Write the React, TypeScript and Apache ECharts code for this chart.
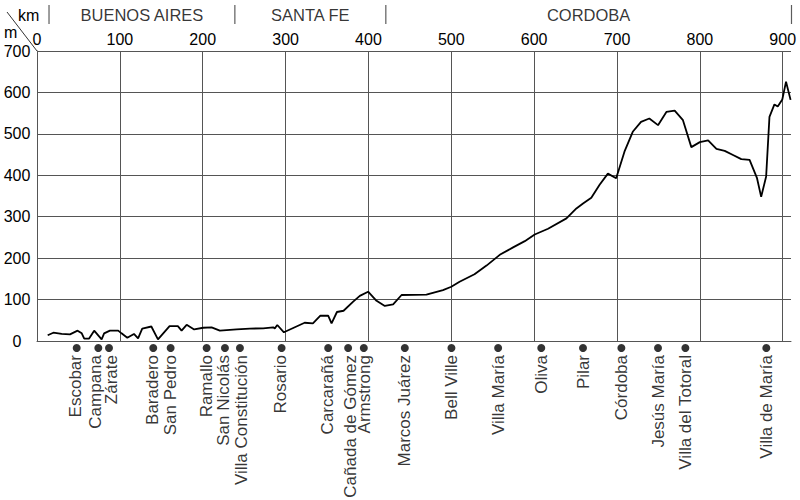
import React, { useEffect, useRef } from "react";
import * as echarts from "echarts";

// Elevation profile (distance in km, height in m)
const profileKm = [
  12.9, 19.7, 29.8, 39.8, 49, 54, 57, 62.7, 69, 78, 81, 88, 98, 102, 109, 117, 122, 127, 138, 146,
  160, 170, 174.5, 180.6, 189.7, 200.6, 210.7, 220.7, 240.9, 257, 273, 285, 287, 290, 298, 323, 333,
  342, 351.4, 355.5, 362, 370, 381.6, 389.6, 399.6, 409.8, 419.8, 429.8, 440, 470, 490, 500, 510, 528,
  542.5, 558.5, 574.6, 588.7, 600.7, 616.8, 639, 651, 659, 669, 679, 689, 699, 709, 719, 729, 739,
  749.5, 759.6, 769.6, 779.6, 789.7, 800, 810, 820, 830, 840, 850, 860, 869, 874, 880, 884, 890, 894,
  899.5, 904, 909.5,
];
const profileM = [
  14, 20, 17, 16, 25, 18.5, 5.5, 5.5, 25, 4, 18.5, 25, 25, 18.5, 8, 17, 6.5, 30, 35, 4,
  36, 36, 25, 39, 28, 32, 33, 25, 28, 30, 30.5, 33, 30.5, 38.6, 21, 44, 42.6,
  61, 61, 42.6, 70, 73, 95, 109, 119, 97, 84.5, 88.6, 111, 112, 123, 131, 143, 161,
  182, 208, 226, 241, 257, 271, 296, 320, 332, 346, 377, 404, 393, 457, 505, 529, 537,
  521, 553, 556, 533, 468, 480, 484, 464, 459, 449, 439, 437, 393, 348, 397, 541, 571, 566,
  583, 626, 582,
];

// Towns along the route
const townNames = [
  "Escobar", "Campana", "Zárate", "Baradero", "San Pedro", "Ramallo", "San Nicolás",
  "Villa Constitución", "Rosario", "Carcarañá", "Cañada de Gómez", "Armstrong", "Marcos Juárez",
  "Bell Ville", "Villa María", "Oliva", "Pilar", "Córdoba", "Jesús María", "Villa del Totoral",
  "Villa de María",
];
const townKm = [
  47.9, 74, 86.9, 140.3, 161.3, 204.7, 226.8, 244.9, 295.2, 351.4, 375.5, 394.4, 443.9,
  500.2, 556.5, 608.6, 659, 705.3, 749.5, 782.5, 880.2,
];
const townLabelShift = [
  -1, -2.5, 2, -1, 0, 0, -1, 1.5, -1, -1, 2, 1, 0, 0, 0, 0, 0, 0, 0, 0, 0,
];

// Provinces
const regionNames = ["BUENOS AIRES", "SANTA FE", "CORDOBA"];
const regionBoundsKm = [14.5, 238.8, 421, 910.6];

const xMax = 910;
const yMax = 700;
const FONT = "'Liberation Sans', Arial, sans-serif";

export default function App() {
  const ref = useRef<HTMLDivElement>(null);

  useEffect(() => {
    document.body.style.margin = "0";
    const chart = echarts.init(ref.current!, undefined, { renderer: "svg" });

    const lineData = profileKm.map((k, i) => [k, profileM[i]]);
    const townData = townNames.map((n, i) => ({
      name: n,
      value: [townKm[i], 0.5],
      label: { offset: [0, townLabelShift[i]] },
    }));
    const sepData = regionBoundsKm.map((k) => [k, 0.5]);
    const regionData = regionNames.map((n, i) => ({
      name: n,
      value: [(regionBoundsKm[i] + regionBoundsKm[i + 1]) / 2, 0.5],
    }));

    const grid = "#555";

    chart.setOption({
      animation: false,
      backgroundColor: "#fff",
      textStyle: { fontFamily: FONT },
      grid: [
        { left: 37, right: 9, top: 51, height: 290 },
        { left: 37, right: 9, top: 341, height: 14 },
        { left: 37, right: 9, top: 5, height: 19 },
      ],
      xAxis: [
        {
          gridIndex: 0,
          type: "value",
          position: "top",
          min: 0,
          max: xMax,
          interval: 100,
          axisLine: { show: true, lineStyle: { color: grid, width: 1 } },
          axisTick: { show: false },
          axisLabel: {
            margin: 4,
            fontSize: 16,
            color: "#000",
            fontFamily: FONT,
            formatter: (v: number) => (v % 100 === 0 ? String(v) : ""),
          },
          splitLine: { show: true, showMaxLine: false, lineStyle: { color: grid, width: 1 } },
        },
        { gridIndex: 1, type: "value", min: 0, max: xMax, show: false },
        { gridIndex: 2, type: "value", min: 0, max: xMax, show: false },
      ],
      yAxis: [
        {
          gridIndex: 0,
          type: "value",
          min: 0,
          max: yMax,
          interval: 100,
          axisLine: { show: true, lineStyle: { color: grid, width: 1 } },
          axisTick: { show: false },
          axisLabel: {
            margin: 20,
            align: "center",
            fontSize: 16,
            color: "#000",
            fontFamily: FONT,
          },
          splitLine: { show: true, lineStyle: { color: grid, width: 1 } },
        },
        { gridIndex: 1, type: "value", min: 0, max: 1, show: false },
        { gridIndex: 2, type: "value", min: 0, max: 1, show: false },
      ],
      series: [
        {
          type: "line",
          xAxisIndex: 0,
          yAxisIndex: 0,
          data: lineData,
          showSymbol: false,
          symbol: "none",
          lineStyle: { color: "#000", width: 1.8 },
        },
        {
          type: "scatter",
          xAxisIndex: 1,
          yAxisIndex: 1,
          data: townData,
          symbol: "circle",
          symbolSize: 8,
          itemStyle: { color: "#000" },
          label: {
            show: true,
            formatter: "{b}",
            rotate: 90,
            position: "bottom",
            distance: 3,
            align: "right",
            verticalAlign: "middle",
            fontSize: 17,
            color: "#000",
            fontFamily: FONT,
          },
        },
        {
          type: "scatter",
          xAxisIndex: 2,
          yAxisIndex: 2,
          data: sepData,
          clip: false,
          symbol: "rect",
          symbolSize: [1.2, 19],
          itemStyle: { color: "#333" },
        },
        {
          type: "scatter",
          xAxisIndex: 2,
          yAxisIndex: 2,
          data: regionData,
          symbolSize: 0,
          label: {
            show: true,
            formatter: "{b}",
            position: "inside",
            fontSize: 16.5,
            color: "#000",
            fontFamily: FONT,
          },
        },
      ],
      graphic: [
        {
          type: "line",
          shape: { x1: 7, y1: 12, x2: 37, y2: 51 },
          style: { stroke: "#333", lineWidth: 1 },
        },
        {
          type: "text",
          x: 18,
          y: 15,
          style: { text: "km", fill: "#000", font: `16px ${FONT}`, verticalAlign: "middle" },
        },
        {
          type: "text",
          x: 4,
          y: 32,
          style: { text: "m", fill: "#000", font: `16px ${FONT}`, verticalAlign: "middle" },
        },
      ],
    });

    return () => chart.dispose();
  }, []);

  return <div ref={ref} style={{ width: 800, height: 500 }} />;
}
